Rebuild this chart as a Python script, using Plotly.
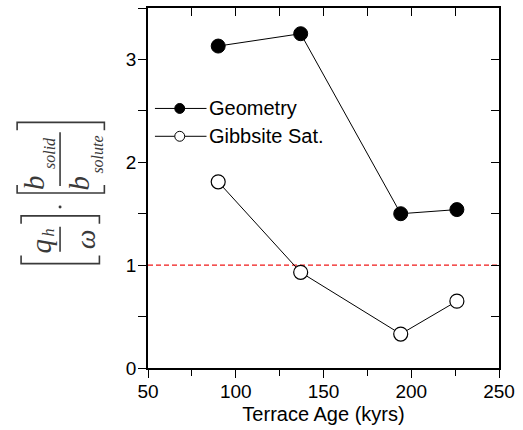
import plotly.graph_objects as go

# Terrace ages (kyrs) and the two estimates of the flux ratio
terrace_age = [90, 137, 194, 226]
geometry = [3.13, 3.25, 1.50, 1.54]
gibbsite_sat = [1.81, 0.93, 0.33, 0.65]
series_names = ["Geometry", "Gibbsite Sat."]

x_ticks = [50, 100, 150, 200, 250]
y_ticks = [0, 1, 2, 3]
x_range = [50, 250]
y_range = [0, 3.5]
reference_level = 1

W, H = 523, 430
ML, MR, MT, MB = 148, 21, 8, 60
PW, PH = W - ML - MR, H - MT - MB


def px(x):
    """pixel column -> paper x"""
    return (x - ML) / PW


def py(y):
    """pixel row -> paper y"""
    return (H - MB - y) / PH


fig = go.Figure()

fig.add_trace(go.Scatter(
    x=terrace_age, y=geometry, mode="lines+markers", name=series_names[0],
    line=dict(color="black", width=1),
    marker=dict(symbol="circle", size=14, color="black",
                line=dict(color="black", width=1)),
    showlegend=False,
))
fig.add_trace(go.Scatter(
    x=terrace_age, y=gibbsite_sat, mode="lines+markers", name=series_names[1],
    line=dict(color="black", width=1),
    marker=dict(symbol="circle", size=14, color="white",
                line=dict(color="black", width=1.2)),
    showlegend=False,
))
# empty trace that carries the top / right frame axes
fig.add_trace(go.Scatter(x=[], y=[], xaxis="x2", yaxis="y2",
                         showlegend=False, hoverinfo="skip"))

tick_font = dict(family="Liberation Sans, Arial, sans-serif", size=19, color="black")

fig.update_layout(
    width=W, height=H,
    margin=dict(l=ML, r=MR, t=MT, b=MB, pad=0),
    paper_bgcolor="white", plot_bgcolor="white",
    font=tick_font,
    xaxis=dict(
        range=x_range, tickvals=x_ticks, ticks="outside", ticklen=8, tickwidth=1.2,
        tickcolor="black", showline=True, linecolor="black", linewidth=1.5,
        showgrid=False, zeroline=False, tickfont=tick_font, ticklabelstandoff=-3,
        minor=dict(dtick=25, tick0=50, ticks="outside", ticklen=6, tickwidth=1.2,
                   tickcolor="black", showgrid=False),
        title=dict(text="Terrace Age (kyrs)", standoff=6,
                   font=dict(family="Liberation Sans, Arial, sans-serif", size=20)),
    ),
    yaxis=dict(
        range=y_range, tickvals=y_ticks, ticks="outside", ticklen=8, tickwidth=1.2,
        tickcolor="black", showline=True, linecolor="black", linewidth=1.5,
        showgrid=False, zeroline=False, tickfont=tick_font, ticklabelstandoff=-2,
        minor=dict(dtick=0.5, tick0=0, ticks="outside", ticklen=8, tickwidth=1.2,
                   tickcolor="black", showgrid=False),
    ),
    xaxis2=dict(
        range=x_range, overlaying="x", side="top", tickvals=x_ticks,
        showticklabels=False, ticks="inside", ticklen=8, tickwidth=1.2,
        tickcolor="black", showline=True, linecolor="black", linewidth=1.5,
        showgrid=False, zeroline=False,
        minor=dict(dtick=25, tick0=50, ticks="inside", ticklen=8, tickwidth=1.2,
                   tickcolor="black", showgrid=False),
    ),
    yaxis2=dict(
        range=y_range, overlaying="y", side="right", tickvals=y_ticks,
        showticklabels=False, ticks="inside", ticklen=8, tickwidth=1.2,
        tickcolor="black", showline=True, linecolor="black", linewidth=1.5,
        showgrid=False, zeroline=False,
        minor=dict(dtick=0.5, tick0=0, ticks="inside", ticklen=8, tickwidth=1.2,
                   tickcolor="black", showgrid=False),
    ),
)

shapes = []
annotations = []

# red dashed reference line
shapes.append(dict(type="line", xref="x domain", yref="y", x0=0, x1=1,
                   y0=reference_level, y1=reference_level,
                   line=dict(color="#f01818", width=1.3, dash="5px,3px"), layer="below"))

# legend rows drawn by hand: line, marker, label
legend_rows = [(109, "black"), (137, "white")]
for (row_y, fill), name in zip(legend_rows, series_names):
    shapes.append(dict(type="line", xref="paper", yref="paper",
                       x0=px(155), x1=px(207), y0=py(row_y), y1=py(row_y),
                       line=dict(color="black", width=1)))
    r = 5
    shapes.append(dict(type="circle", xref="paper", yref="paper",
                       x0=px(180 - r), x1=px(180 + r), y0=py(row_y + r), y1=py(row_y - r),
                       fillcolor=fill, line=dict(color="black", width=1)))
    annotations.append(dict(xref="paper", yref="paper", x=px(208), y=py(row_y),
                            xanchor="left", yanchor="middle", showarrow=False,
                            text=name,
                            font=dict(family="Liberation Sans, Arial, sans-serif",
                                      size=20, color="black")))

# y-axis label: [q_h / ω] · [b_solid / b_solute], written bottom-to-top
lab_col = "#3a3a3a"
lw = 1.6


def bracket(x0, x1, y, hook):
    return dict(type="path", xref="paper", yref="paper",
                path=f"M {px(x0)} {py(y + hook)} L {px(x0)} {py(y)} L {px(x1)} {py(y)} L {px(x1)} {py(y + hook)}",
                line=dict(color=lab_col, width=lw))


shapes += [
    bracket(16, 104, 123, 8), bracket(16, 104, 194, -8),
    bracket(20, 99, 217, 8), bracket(20, 99, 265, -8),
    dict(type="line", xref="paper", yref="paper", x0=px(59.3), x1=px(59.3),
         y0=py(133), y1=py(187), line=dict(color=lab_col, width=lw)),
    dict(type="line", xref="paper", yref="paper", x0=px(59.3), x1=px(59.3),
         y0=py(228), y1=py(253), line=dict(color=lab_col, width=lw)),
    dict(type="circle", xref="paper", yref="paper", x0=px(57.8), x1=px(60.8),
         y0=py(209.5), y1=py(206.5), fillcolor=lab_col, line=dict(width=0)),
]


def rot_text(x, y, text, size):
    return dict(xref="paper", yref="paper", x=px(x), y=py(y), text=text,
                textangle=-90, xanchor="center", yanchor="middle", showarrow=False,
                font=dict(family="Liberation Serif, Times New Roman, serif",
                          size=size, color=lab_col))


annotations += [
    rot_text(33, 183, "<i>b</i>", 29),
    rot_text(48, 154, "<i>solid</i>", 16),
    rot_text(78, 184, "<i>b</i>", 29),
    rot_text(97, 155, "<i>solute</i>", 16),
    rot_text(40, 247, "<i>q</i>", 29),
    rot_text(48, 234, "<i>h</i>", 16),
    rot_text(85, 241, "<i>ω</i>", 28),
]

fig.update_layout(shapes=shapes, annotations=annotations)

fig.write_html("out.html")
